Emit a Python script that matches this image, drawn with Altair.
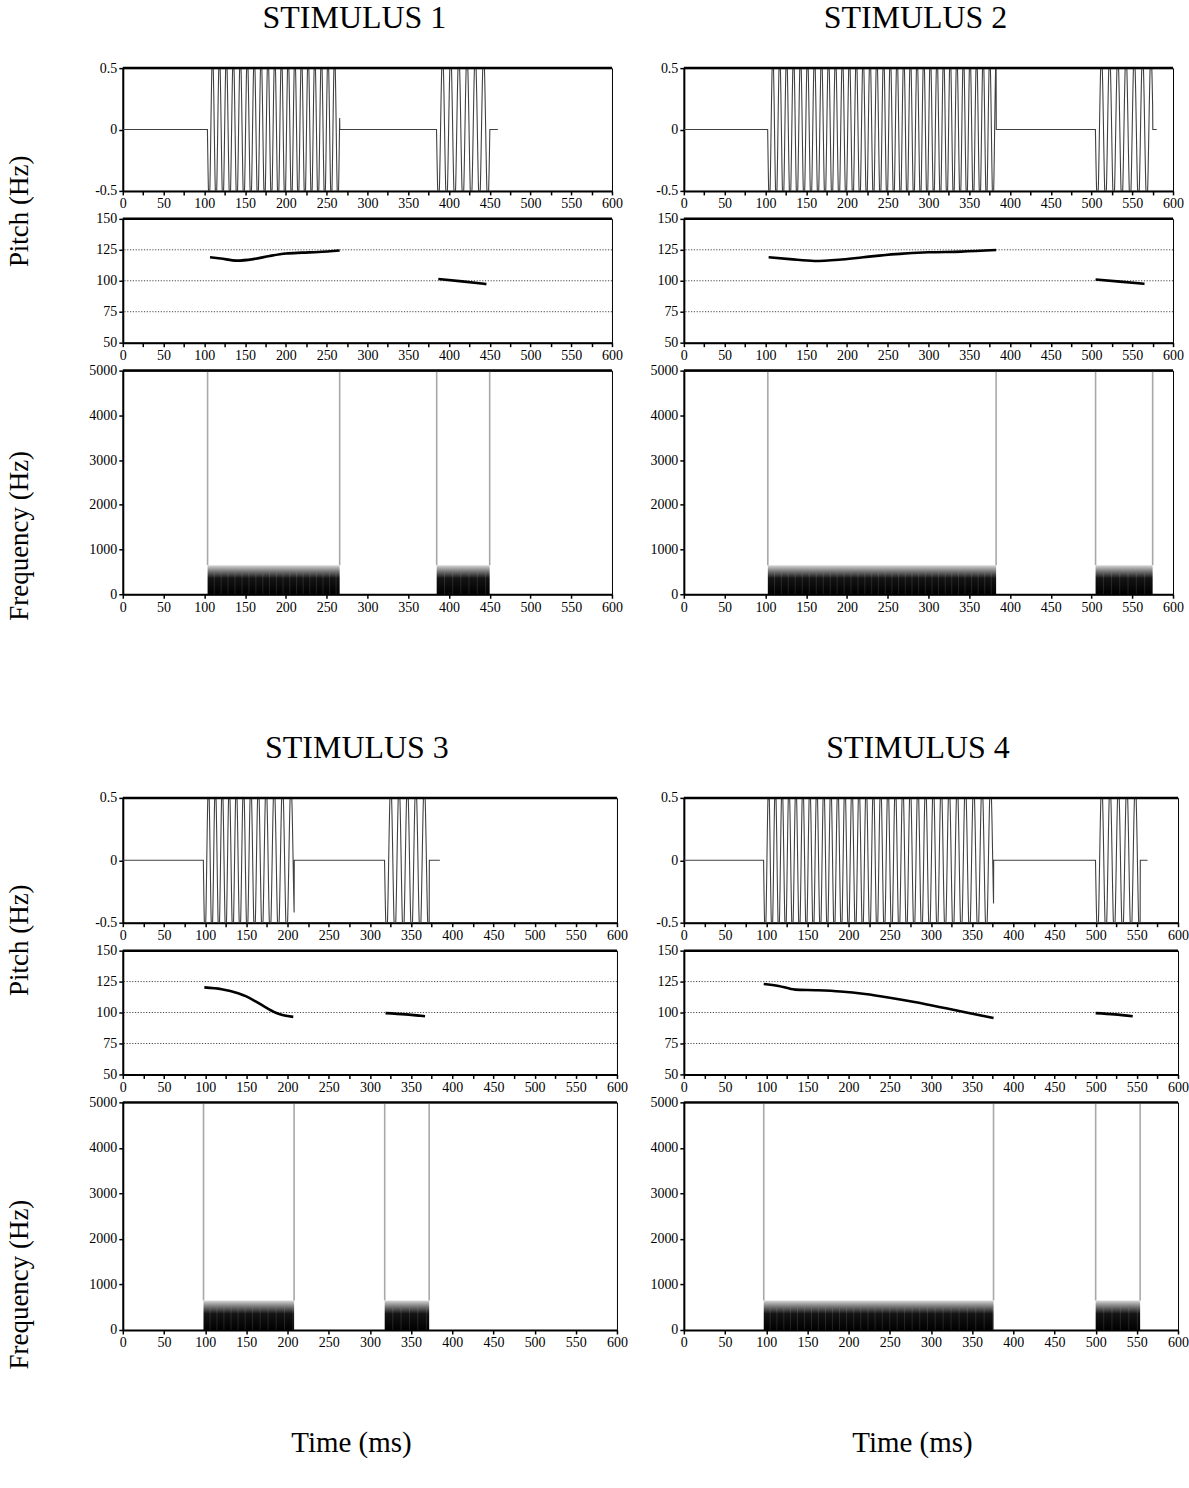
import numpy as np
import pandas as pd
import altair as alt

SERIF = "Liberation Serif"

# ---------------- data ----------------
titles = ["STIMULUS 1", "STIMULUS 2", "STIMULUS 3", "STIMULUS 4"]

# voiced segments (ms)
seg1_on = [104, 103, 98, 97]
seg1_off = [266, 383, 208, 376]
seg2_on = [385, 505, 318, 500]
seg2_off = [450, 575, 372, 554]
tail_end = [460, 580, 385, 563]

# pitch tracks (ms, Hz)
s1_p1_t = [107, 120, 140, 160, 180, 200, 220, 240, 266]
s1_p1_f = [119, 118, 116.3, 117.5, 120, 122, 122.7, 123.2, 124.5]
s1_p2_t = [387, 416, 446]
s1_p2_f = [101.4, 99.5, 97.3]

s2_p1_t = [104, 130, 160, 190, 220, 260, 300, 340, 383]
s2_p1_f = [119, 117.5, 116, 117, 119, 121.5, 123, 123.5, 124.8]
s2_p2_t = [505, 535, 565]
s2_p2_f = [101, 99.3, 97.5]

s3_p1_t = [99, 120, 140, 150, 160, 170, 185, 195, 207]
s3_p1_f = [120.3, 118.8, 115.5, 113, 109.5, 105.5, 100, 97.8, 96.5]
s3_p2_t = [319, 343, 367]
s3_p2_f = [99.5, 98.5, 97]

s4_p1_t = [97, 115, 135, 160, 190, 220, 250, 280, 310, 340, 376]
s4_p1_f = [123, 121.5, 118.5, 118, 117, 115, 112, 108.5, 104.5, 100.5, 95.5]
s4_p2_t = [500, 523, 545]
s4_p2_f = [99.5, 98.5, 97]

pitch1_t = [s1_p1_t, s2_p1_t, s3_p1_t, s4_p1_t]
pitch1_f = [s1_p1_f, s2_p1_f, s3_p1_f, s4_p1_f]
pitch2_t = [s1_p2_t, s2_p2_t, s3_p2_t, s4_p2_t]
pitch2_f = [s1_p2_f, s2_p2_f, s3_p2_f, s4_p2_f]

pitch_grid = [75, 100, 125]
band_top_hz = 650

x_ticks = list(range(0, 601, 25))
wave_ticks = [-0.5, 0, 0.5]
pitch_ticks = [50, 75, 100, 125, 150]
spec_ticks = [0, 1000, 2000, 3000, 4000, 5000]


# ---------------- derived tables ----------------
def wave_table(i):
    """Waveform built from the segment boundaries and the pitch tracks."""
    dt = 0.2
    t = np.arange(0, tail_end[i] + dt / 2, dt)
    y = np.zeros_like(t)
    pulses = []
    for on, off, pt, pf in [(seg1_on[i], seg1_off[i], pitch1_t[i], pitch1_f[i]),
                            (seg2_on[i], seg2_off[i], pitch2_t[i], pitch2_f[i])]:
        m = (t >= on) & (t <= off)
        f = np.interp(t[m], pt, pf)
        cyc = np.cumsum(f * dt / 1000.0)
        y[m] = -0.62 * np.sin(2 * np.pi * cyc)
        k = np.floor(cyc)
        idx = np.where(np.diff(k) > 0)[0]
        pulses.extend(list(t[m][idx]))
    y = np.clip(y, -0.5, 0.5)
    return pd.DataFrame({"t": t, "y": y}), pd.DataFrame({"t": pulses})


def pitch_table(i):
    rows = []
    for s, (pt, pf) in enumerate([(pitch1_t[i], pitch1_f[i]), (pitch2_t[i], pitch2_f[i])]):
        for a, b in zip(pt, pf):
            rows.append({"t": a, "f": b, "seg": s})
    return pd.DataFrame(rows)


def spec_table(i):
    return pd.DataFrame({
        "on": [seg1_on[i], seg2_on[i]],
        "off": [seg1_off[i], seg2_off[i]],
        "lo": [0, 0],
        "hi": [band_top_hz, band_top_hz],
    })


def edge_table(i):
    return pd.DataFrame({"t": [seg1_on[i], seg1_off[i], seg2_on[i], seg2_off[i]],
                         "lo": [band_top_hz] * 4, "hi": [5000] * 4})


# ---------------- styling helpers ----------------
def x_axis(show_title=False, W=490):
    kw = dict(values=x_ticks, format="d",
              labelExpr="datum.value % 50 === 0 ? datum.label : ''",
              labelFlush=False, labelOverlap=False, grid=False)
    if show_title:
        kw.update(title="Time (ms)", titleFont=SERIF, titleFontSize=29,
                  titleFontWeight="normal", titleColor="black",
                  titleBaseline="alphabetic", titleY=122, titleX=W / 2 - 19)
    else:
        kw.update(title=None)
    return alt.Axis(**kw)


def y_axis(values, title=None, tx=-95, ty=0, label_expr=None, fmt="d"):
    kw = dict(values=values, grid=False, labelOverlap=False, labelFlush=False)
    if label_expr:
        kw["labelExpr"] = label_expr
    else:
        kw["format"] = fmt
    if title:
        kw.update(title=title, titleFont=SERIF, titleFontSize=27,
                  titleFontWeight="normal", titleColor="black",
                  titleAngle=270, titleAlign="center", titleBaseline="alphabetic",
                  titleX=tx, titleY=ty)
    else:
        kw["title"] = None
    return alt.Axis(**kw)


def top_border(W):
    return alt.Chart(pd.DataFrame({"a": [0]})).mark_rule(
        color="black", strokeWidth=2.5).encode(
        x=alt.value(0), x2=alt.value(W), y=alt.value(0))


XS = alt.Scale(domain=[0, 600], nice=False, zero=False)
PS = alt.Scale(domain=[50, 150], nice=False, zero=False)


def wave_panel(i, W, h):
    wdf, _ = wave_table(i)
    wave = alt.Chart(wdf).mark_line(color="#404040", strokeWidth=1.1, clip=True).encode(
        x=alt.X("t:Q", scale=XS, axis=x_axis()),
        y=alt.Y("y:Q", scale=alt.Scale(domain=[-0.5, 0.5], nice=False),
                axis=y_axis(wave_ticks,
                            label_expr="datum.value === 0 ? '0' : (datum.value > 0 ? '0.5' : '-0.5')")),
    )
    return alt.layer(wave, top_border(W)).properties(
        width=W, height=h,
        title=alt.TitleParams(titles[i], font=SERIF, fontSize=32, fontWeight="normal",
                              color="black", anchor="middle", baseline="alphabetic",
                              offset=1, dx=-13),
    )


def pitch_panel(i, W, h, left, ty):
    pdf = pitch_table(i)
    pax = y_axis(pitch_ticks, title="Pitch (Hz)" if left else None, ty=ty)
    grid = alt.Chart(pd.DataFrame({"g": pitch_grid})).mark_rule(
        color="#333333", strokeWidth=0.9, strokeDash=[1.2, 1.6]).encode(
        y=alt.Y("g:Q", scale=PS, axis=pax))
    pline = alt.Chart(pdf).mark_line(color="black", strokeWidth=2.6, interpolate="monotone").encode(
        x=alt.X("t:Q", scale=XS, axis=x_axis()),
        y=alt.Y("f:Q", scale=PS, axis=pax),
        detail="seg:N",
    )
    return alt.layer(grid, pline, top_border(W)).properties(width=W, height=h)


def spec_panel(i, W, h, left, bottom, ty):
    _, pulses = wave_table(i)
    sdf = spec_table(i)
    grad = alt.LinearGradient(
        gradient="linear",
        stops=[alt.GradientStop(color="#dcdcdc", offset=0),
               alt.GradientStop(color="#a9a9a9", offset=0.1),
               alt.GradientStop(color="#505050", offset=0.3),
               alt.GradientStop(color="#141414", offset=0.45),
               alt.GradientStop(color="#000000", offset=1)],
        x1=0, x2=0, y1=0, y2=1)
    yS = alt.Scale(domain=[0, 5000], nice=False, zero=True)
    band = alt.Chart(sdf).mark_rect(fill=grad, strokeWidth=0).encode(
        x=alt.X("on:Q", scale=XS, axis=x_axis(show_title=bottom, W=W)),
        x2="off:Q",
        y=alt.Y("lo:Q", scale=yS,
                axis=y_axis(spec_ticks, title="Frequency (Hz)" if left else None, ty=ty)),
        y2="hi:Q",
    )
    pulses = pulses.assign(lo=0, hi=480)
    stria = alt.Chart(pulses).mark_rule(color="white", opacity=0.12, strokeWidth=1).encode(
        x=alt.X("t:Q", scale=XS), y=alt.Y("lo:Q", scale=yS), y2="hi:Q")
    edges = alt.Chart(edge_table(i)).mark_rule(color="#a8a8a8", strokeWidth=1.6).encode(
        x=alt.X("t:Q", scale=XS), y=alt.Y("lo:Q", scale=yS), y2="hi:Q")
    return alt.layer(band, stria, edges, top_border(W)).properties(width=W, height=h)


def spacer(W, h):
    return alt.Chart(pd.DataFrame({"a": [0]})).mark_point(opacity=0).encode(
        x=alt.value(0), y=alt.value(0)).properties(
        width=W, height=h, view=alt.ViewBackground(strokeOpacity=0))


W1, W2 = 490, 495
cells = [
    wave_panel(0, W1, 123), wave_panel(1, W1, 123),
    pitch_panel(0, W1, 124, True, -8), pitch_panel(1, W1, 124, False, -8),
    spec_panel(0, W1, 224, True, False, 165), spec_panel(1, W1, 224, False, False, 165),
    spacer(W1, 148), spacer(W1, 148),
    wave_panel(2, W2, 125), wave_panel(3, W2, 125),
    pitch_panel(2, W2, 124, True, -11), pitch_panel(3, W2, 124, False, -11),
    spec_panel(2, W2, 228, True, True, 182), spec_panel(3, W2, 228, False, True, 182),
]

chart = alt.concat(*cells, columns=2, spacing=alt.RowColnumber(row=28, column=67),
                   align="each", bounds="flush").properties(
    padding={"left": 5, "top": 0, "right": 0, "bottom": 0},
    background="white",
).configure_view(stroke="black", strokeWidth=1).configure_axis(
    labelFont=SERIF, labelFontSize=14, labelColor="black",
    domainColor="black", domainWidth=2, tickColor="black", tickWidth=1.5,
    tickSize=4, labelPadding=2,
).configure_title(font=SERIF)

chart.save("out.html", embed_options={"renderer": "svg", "actions": False})
